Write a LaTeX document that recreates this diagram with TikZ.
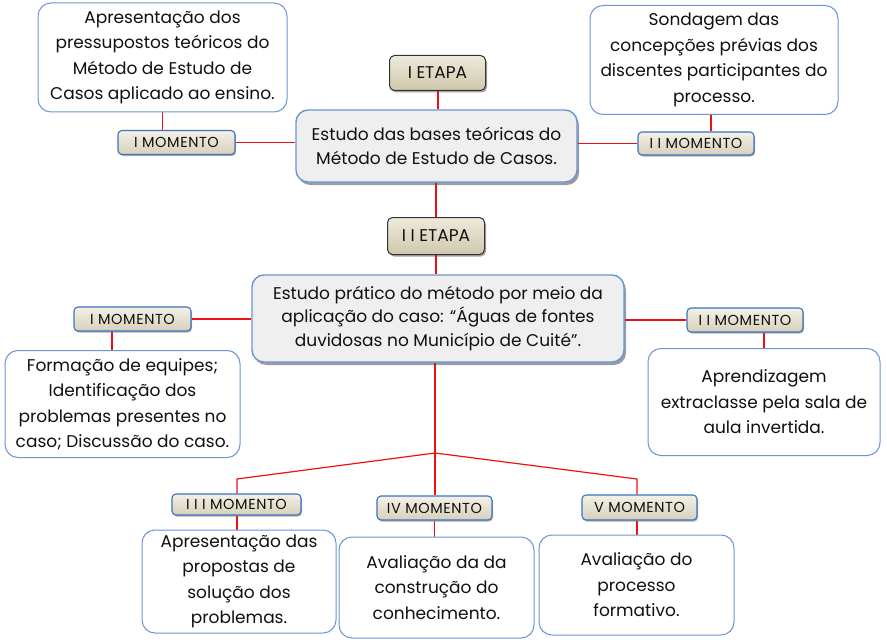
\documentclass[tikz,border=0pt]{standalone}
\usepackage{fontspec}
\setmainfont{Poppins}
\usetikzlibrary{shadows,calc,backgrounds}
\pgfdeclarelayer{lines}
\pgfsetlayers{background,lines,main}
\definecolor{linkred}{HTML}{EE1111}
\definecolor{boxblue}{HTML}{6A96D6}
\definecolor{momblue}{HTML}{3A74C2}
\definecolor{txt}{HTML}{101010}
\definecolor{mainfill}{HTML}{EFEFEF}
\definecolor{etapatop}{HTML}{EEEADB}
\definecolor{etapabot}{HTML}{CFC8AC}
\definecolor{momtop}{HTML}{F4F1E6}
\definecolor{mombot}{HTML}{D6D0BA}
\tikzset{
  textbox/.style={draw=boxblue, line width=1pt, rounded corners=13pt, fill=white,
    align=center, inner sep=0pt, text=txt, font=\fontsize{17}{25.5}\selectfont},
  mainbox/.style={draw=boxblue, line width=1.4pt, rounded corners=12pt, fill=mainfill,
    align=center, inner sep=0pt, text=txt, font=\fontsize{17}{23.5}\selectfont,
    drop shadow={shadow xshift=2pt, shadow yshift=-3pt, opacity=0.55, fill=black!70}},
  etapabox/.style={draw=black!80, line width=1pt, rounded corners=5pt,
    top color=etapatop, bottom color=etapabot, inner sep=0pt, text=txt,
    font=\fontsize{17}{19}\selectfont,
    drop shadow={shadow xshift=1.5pt, shadow yshift=-2pt, opacity=0.5, fill=black!70}},
  mombox/.style={draw=momblue, line width=1.1pt, rounded corners=4pt,
    top color=momtop, bottom color=mombot, inner sep=0pt, text=txt,
    font=\fontsize{14.5}{16}\selectfont\addfontfeatures{LetterSpace=4},
    drop shadow={shadow xshift=1pt, shadow yshift=-1.5pt, opacity=0.45, fill=black!70}},
  link/.style={draw=linkred, line width=1.2pt},
  trunk/.style={draw=linkred, line width=2pt},
}
\begin{document}
\begin{tikzpicture}[x=1pt,y=-1pt]
\useasboundingbox (0,0) rectangle (887,642);
\begin{pgfonlayer}{background}
\fill[white] (0,0) rectangle (887,642);
\end{pgfonlayer}

% outer text boxes
\node[textbox, minimum width=249pt, minimum height=109pt] (tl) at (162.5,57.5)
  {Apresentação dos\\pressupostos teóricos do\\Método de Estudo de\\Casos aplicado ao ensino.};
\node[textbox, minimum width=248pt, minimum height=109pt] (tr) at (714,60)
  {Sondagem das\\concepções prévias dos\\discentes participantes do\\processo.};
\node[textbox, minimum width=235pt, minimum height=107pt] (bl) at (122.5,404)
  {Formação de equipes;\\Identificação dos\\problemas presentes no\\caso; Discussão do caso.};
\node[textbox, minimum width=232pt, minimum height=107pt] (br) at (764,402)
  {Aprendizagem\\extraclasse pela sala de\\aula invertida.};
\node[textbox, minimum width=194pt, minimum height=103pt] (b3) at (239,581.5)
  {Apresentação das\\propostas de\\solução dos\\problemas.};
\node[textbox, minimum width=195pt, minimum height=101pt] (b4) at (436.5,587.5)
  {Avaliação da da\\construção do\\conhecimento.};
\node[textbox, minimum width=195pt, minimum height=100pt] (b5) at (636.5,585)
  {Avaliação do\\processo\\formativo.};

% main boxes
\node[mainbox, minimum width=281pt, minimum height=72pt] (m1) at (436.5,146)
  {Estudo das bases teóricas do\\Método de Estudo de Casos.};
\node[mainbox, minimum width=372pt, minimum height=87pt] (m2) at (438,318.5)
  {Estudo prático do método por meio da\\aplicação do caso: “Águas de fontes\\duvidosas no Município de Cuité”.};

% etapas
\node[etapabox, minimum width=96pt, minimum height=35pt] (e1) at (437.5,73) {I ETAPA};
\node[etapabox, minimum width=97pt, minimum height=37pt] (e2) at (436,236) {I I ETAPA};

% momentos
\node[mombox, minimum width=117pt, minimum height=24pt] (ma) at (176.5,142.5) {I MOMENTO};
\node[mombox, minimum width=116pt, minimum height=23pt] (mb) at (696,143.5) {I I MOMENTO};
\node[mombox, minimum width=117pt, minimum height=24pt] (mc) at (132.5,319) {I MOMENTO};
\node[mombox, minimum width=116pt, minimum height=24pt] (md) at (745,320) {I I MOMENTO};
\node[mombox, minimum width=129pt, minimum height=21pt] (m3) at (236.5,504.5) {I I I MOMENTO};
\node[mombox, minimum width=115pt, minimum height=24pt] (m4) at (434.5,508) {IV MOMENTO};
\node[mombox, minimum width=115pt, minimum height=25pt] (m5) at (639.5,507.5) {V MOMENTO};

% connectors
\coordinate (j) at (435,453);
\coordinate (jl) at (237,479);
\coordinate (jr) at (637,479);

\begin{pgfonlayer}{lines}
\draw[trunk] (e1.south) -- (e1.south |- m1.north);
\draw[trunk] (m1.south -| e2.north) -- (e2.north);
\draw[link] (e2.south) -- (e2.south |- m2.north);
\draw[link] (m1.west |- ma.east) -- (ma.east);
\draw[link] (tl.south) -- (tl.south |- ma.north);
\draw[link] (m1.east |- mb.west) -- (mb.west);
\draw[link] ([xshift=15pt]mb.north) -- ([xshift=15pt]mb.north |- tr.south);
\draw[link] (m2.west |- mc.east) -- (mc.east);
\draw[link] ([xshift=-20.5pt]mc.south) -- ([xshift=-20.5pt]mc.south |- bl.north);
\draw[link] (m2.east |- md.west) -- (md.west);
\draw[link] ([xshift=19pt]md.south) -- ([xshift=19pt]md.south |- br.north);
\draw[trunk] (m2.south -| j) -- (j) -- (j |- m4.north);
\draw[link] (j) -- (jl) -- (jl |- m3.north);
\draw[link] (j) -- (jr) -- (jr |- m5.north);
\draw[link] (m3.south -| jl) -- (jl |- b3.north);
\draw[link] (m4.south) -- (m4.south |- b4.north);
\draw[link] (m5.south -| jr) -- (jr |- b5.north);
\end{pgfonlayer}
\end{tikzpicture}
\end{document}
